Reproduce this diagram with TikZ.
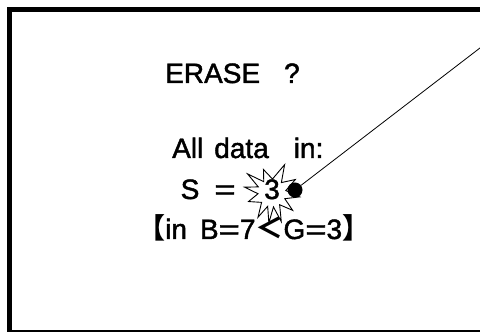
\documentclass[tikz,border=0pt]{standalone}
\usepackage{graphicx}
\usepackage{fontspec}
\setmainfont{Liberation Sans}[BoldFont=Liberation Sans, BoldFeatures={FakeBold=1.6}]
\newfontfamily\cjk{Noto Sans CJK JP}
\usetikzlibrary{positioning}
\newcommand\wideeq{\scalebox{1.3}[1]{=}}
\tikzset{
  msg/.style={anchor=base west, inner sep=0pt, font=\fontsize{28}{34}\selectfont\bfseries},
  burst/.style={draw, fill=white, line width=0.9pt, line join=miter},
}
\begin{document}
\begin{tikzpicture}[x=1pt, y=1pt]
  \useasboundingbox (0,0) rectangle (480,332);
  \clip (0,0) rectangle (480,332);
  % screen frame
  \draw[line width=5pt] (9.5,-0.5) rectangle (484,322.5);
  % starburst behind the value
  \draw[burst, shift={(272,139)}] plot coordinates {(30:27) (48:14) (66:31) (88:14) (110:25) (126:14) (142:31) (156:15) (168:28) (183:14) (200:25) (222:14) (240:28) (252:14) (264:30) (276:14) (288:30) (303:14) (320:27) (336:14) (352:28) (10:14)} -- cycle;
  \node[msg] (erase) at (165,249) {ERASE\hspace{24pt}?};
  \node[msg] (alldata) at (172,174) {All\hspace{11pt}data\hspace{25pt}in:};
  \node[msg] (slabel) at (180.5,133) {S\hspace{15pt}\wideeq};
  \node[msg, anchor=base] (value) at (272,133) {3};
  \node[msg] (detail) at (137,93) {{\cjk 【}in\hspace{13pt}B\wideeq 7{\cjk ＜}G\wideeq 3{\cjk 】}};
  \node[circle, fill, inner sep=0pt, minimum size=15pt] (dot) at (295,142) {};
  \coordinate (far) at (490,291.7);
  \draw[line width=0.8pt] (dot) -- (far);
\end{tikzpicture}
\end{document}
